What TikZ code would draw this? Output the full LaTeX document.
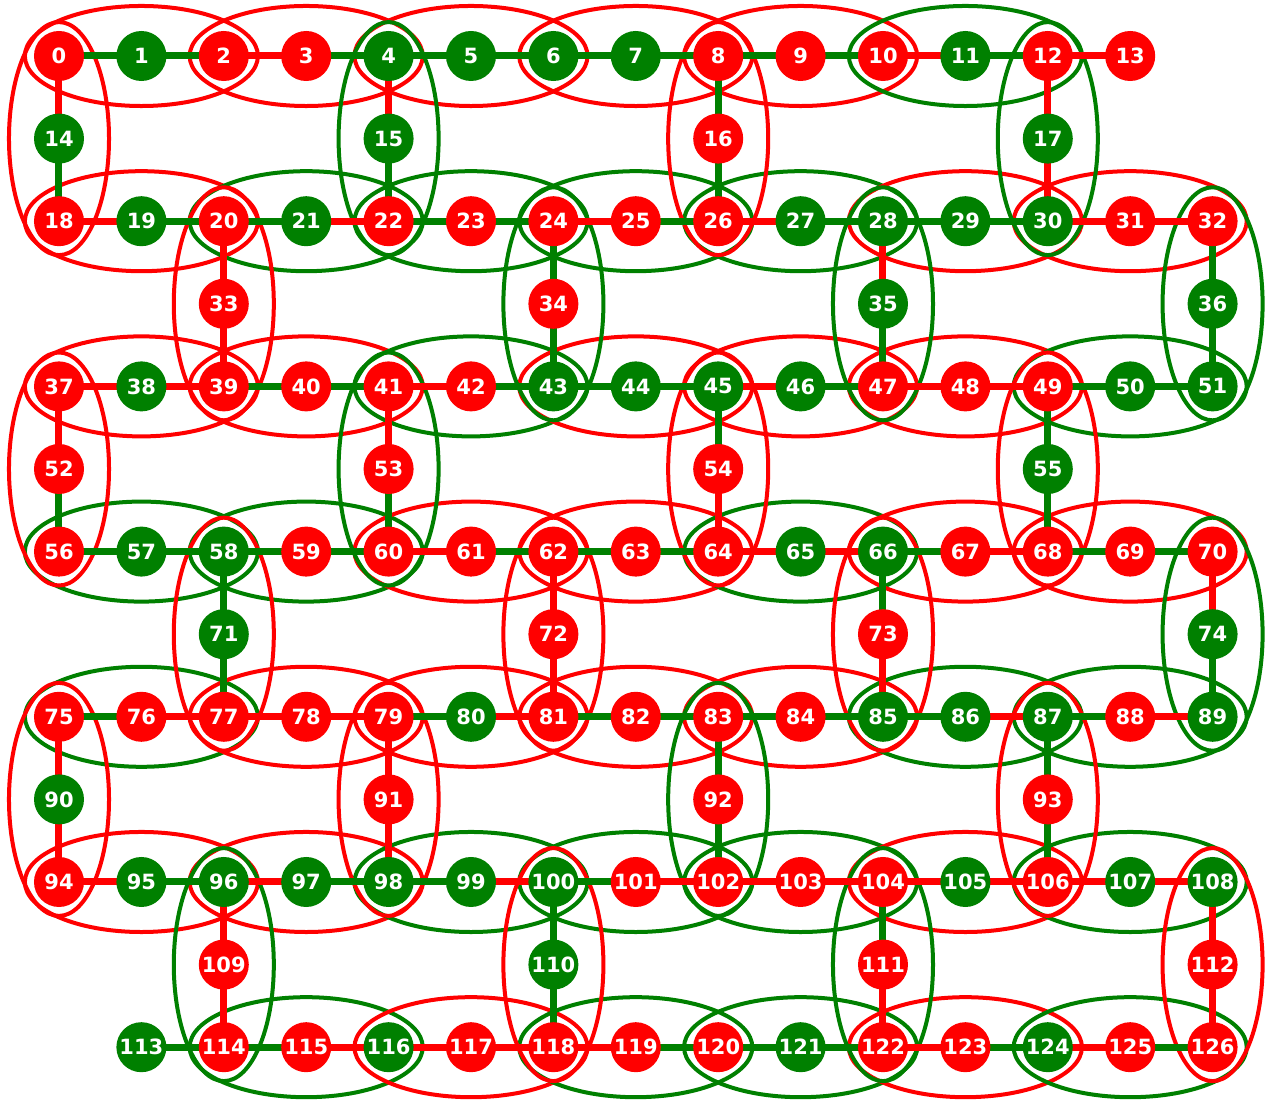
\documentclass[tikz,border=0pt]{standalone}
\usepackage{fontspec}
\newfontfamily\qfont{DejaVu Sans}
\usepackage{tikz}

\definecolor{qred}{HTML}{FF0000}
\definecolor{qgreen}{HTML}{008000}

\pgfdeclarelayer{ellipses}
\pgfdeclarelayer{halo}
\pgfdeclarelayer{edges}
\pgfsetlayers{ellipses,halo,edges,main}

\tikzset{
  qubit/.style={circle,minimum size=25pt,inner sep=0pt,text=white,
    font=\qfont\bfseries\fontsize{10.5}{12}\selectfont},
  qr/.style={qubit,fill=qred},
  qg/.style={qubit,fill=qgreen},
  er/.style={draw=qred,line width=3.5pt},
  eg/.style={draw=qgreen,line width=3.5pt},
  ringr/.style={draw=qred,line width=2pt},
  ringg/.style={draw=qgreen,line width=2pt},
  halo/.style={draw=white,line width=1.1pt}
}

% #1 first id, #2 first column, #3 column step, #4 row, #5 colours
\newcommand\qrow[5]{%
  \foreach \k [count=\c from 0] in {#5}{%
    \pgfmathtruncatemacro\qid{#1+\c}%
    \node[q\k] (q\qid) at ({#2+#3*\c},#4) {\qid};}}

% #1 first id, #2 colours of the couplers along the row
\newcommand\qline[2]{%
  \foreach \k [count=\c from 0] in {#2}{%
    \pgfmathtruncatemacro\qa{#1+\c}%
    \pgfmathtruncatemacro\qb{#1+\c+1}%
    \draw[e\k] (q\qa.center) -- (q\qb.center);}}

\begin{document}
\begin{tikzpicture}[x=41.19pt,y=-41.29pt]
\useasboundingbox (-0.716,-0.678) rectangle (14.709,12.630);

% qubits
\qrow{0}{0}{1}{0}{r,g,r,r,g,g,g,g,r,r,r,g,r,r}
\qrow{14}{0}{4}{1}{g,g,r,g}
\qrow{18}{0}{1}{2}{r,g,r,g,r,r,r,r,r,g,g,g,g,r,r}
\qrow{33}{2}{4}{3}{r,r,g,g}
\qrow{37}{0}{1}{4}{r,g,r,r,r,r,g,g,g,g,r,r,r,g,g}
\qrow{52}{0}{4}{5}{r,r,r,g}
\qrow{56}{0}{1}{6}{r,g,g,r,r,r,r,r,r,g,g,r,r,r,r}
\qrow{71}{2}{4}{7}{g,r,r,g}
\qrow{75}{0}{1}{8}{r,r,r,r,r,g,r,r,r,r,g,g,g,r,g}
\qrow{90}{0}{4}{9}{g,r,r,r}
\qrow{94}{0}{1}{10}{r,g,g,g,g,g,g,r,r,r,r,g,r,g,g}
\qrow{109}{2}{4}{11}{r,g,r,r}
\qrow{113}{1}{1}{12}{g,r,r,g,r,r,r,r,g,r,r,g,r,r}

% white rim round every qubit
\begin{pgfonlayer}{halo}
\foreach \i in {0,...,126}
  \draw[halo] (q\i) circle (13.05pt);
\end{pgfonlayer}

% couplers
\begin{pgfonlayer}{edges}
\qline{0}{g,g,r,g,g,g,g,g,g,g,r,g,r}
\qline{18}{r,g,g,r,g,g,r,g,r,g,g,g,r,r}
\qline{37}{r,r,g,g,r,g,g,g,r,g,r,r,g,g}
\qline{56}{g,g,g,g,r,g,g,g,r,r,g,r,g,g}
\qline{75}{g,r,r,r,g,r,g,g,g,g,g,r,g,r}
\qline{94}{r,g,r,g,g,r,g,r,r,r,r,r,r,r}
\qline{113}{g,g,r,r,r,r,g,g,g,r,g,r,g}
\foreach \a/\b/\k in {0/14/r,14/18/g,4/15/r,15/22/g,8/16/g,16/26/g,12/17/r,17/30/r,
    20/33/r,33/39/r,24/34/g,34/43/g,28/35/r,35/47/g,32/36/g,36/51/g,
    37/52/r,52/56/g,41/53/r,53/60/g,45/54/g,54/64/r,49/55/g,55/68/g,
    58/71/g,71/77/g,62/72/r,72/81/r,66/73/g,73/85/r,70/74/r,74/89/g,
    75/90/r,90/94/r,79/91/r,91/98/r,83/92/g,92/102/g,87/93/g,93/106/g,
    96/109/r,109/114/r,100/110/g,110/118/g,104/111/g,111/122/r,108/112/r,112/126/r}
  \draw[e\k] (q\a.center) -- (q\b.center);
\end{pgfonlayer}

% groups of three
\begin{pgfonlayer}{ellipses}
\foreach \m/\k in {1/r,3/r,5/r,7/r,9/r,11/g,
    19/r,21/g,23/g,25/g,27/g,29/r,31/r,
    38/r,40/r,42/g,44/r,46/r,48/r,50/g,
    57/g,59/g,61/r,63/r,65/g,67/r,69/r,
    76/g,78/r,80/r,82/r,84/r,86/g,88/g,
    95/r,97/r,99/g,101/g,103/g,105/r,107/g,
    115/g,117/r,119/g,121/g,123/r,125/g}
  \draw[ring\k] (q\m) ellipse [x radius=58.25pt,y radius=25pt];
\foreach \m/\k in {14/r,15/g,16/r,17/g,33/r,34/g,35/g,36/g,
    52/r,53/g,54/r,55/r,71/r,72/r,73/r,74/g,
    90/r,91/r,92/g,93/r,109/g,110/r,111/g,112/r}
  \draw[ring\k] (q\m) ellipse [x radius=25pt,y radius=58.25pt];
\end{pgfonlayer}
\end{tikzpicture}
\end{document}
